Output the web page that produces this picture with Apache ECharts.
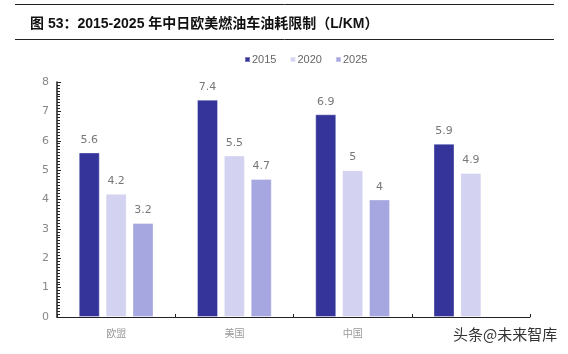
<!DOCTYPE html>
<html>
<head>
<meta charset="utf-8">
<script src="https://cdn.jsdelivr.net/npm/echarts@6/dist/echarts.min.js"></script>
<style>
  html, body { margin: 0; padding: 0; background: #fff; }
  #chart { width: 568px; height: 354px; }
</style>
</head>
<body>
<div id="chart"></div>
<script>
const categories = ['欧盟', '美国', '中国', '日本']
const years = ['2015', '2020', '2025']
const values2015 = [5.6, 7.4, 6.9, 5.9]
const values2020 = [4.2, 5.5, 5, 4.9]
const values2025 = [3.2, 4.7, 4, null]
const colors = ['#34349a', '#d3d3f1', '#a6a6e0']

const myChart = echarts.init(document.getElementById('chart'))
const seriesData = [values2015, values2020, values2025]

const series = years.map((name, i) => {
  return {
    name,
    type: 'bar',
    data: seriesData[i],
    barWidth: 21,
    barGap: '28%',
    itemStyle: { color: colors[i], borderColor: 'rgba(255,255,255,0.35)', borderWidth: 1 },
    label: {
      show: true,
      position: 'top',
      distance: 7,
      color: '#777',
      fontSize: 11,
      fontFamily: 'DejaVu Sans',
      formatter: p => (p.value == null ? '' : String(p.value))
    }
  }
})

myChart.setOption({
  animation: false,
  title: {
    text: '图 53：2015-2025 年中日欧美燃油车油耗限制（L/KM）',
    left: 25,
    top: 12,
    textStyle: { fontSize: 14, fontWeight: 'bold', color: '#111', fontFamily: 'Liberation Sans, Noto Sans CJK SC' }
  },
  legend: {
    data: years,
    left: 239,
    top: 49,
    itemWidth: 5,
    itemHeight: 5,
    itemGap: 13,
    icon: 'rect',
    textStyle: { color: '#666', fontSize: 11, padding: [0, 0, 0, -3], fontFamily: 'Liberation Sans' }
  },
  grid: { left: 57, right: 38, top: 82, bottom: 37 },
  xAxis: {
    type: 'category',
    data: categories,
    axisLine: { lineStyle: { color: '#222', width: 1 } },
    axisTick: { show: true, inside: true, length: 3, lineStyle: { color: '#222' } },
    axisLabel: { color: '#999', fontSize: 10, margin: 11, fontFamily: 'Noto Sans CJK SC' }
  },
  yAxis: {
    type: 'value',
    min: 0,
    max: 8,
    interval: 1,
    axisLine: { show: true, lineStyle: { color: '#222', width: 1.5 } },
    axisTick: { show: true, inside: true, length: 4, lineStyle: { color: '#222' } },
    minorTick: { show: true, splitNumber: 10, length: 3, lineStyle: { color: '#222' } },
    splitLine: { show: false },
    axisLabel: { color: '#888', fontSize: 11, margin: 8, fontFamily: 'DejaVu Sans' }
  },
  graphic: [
    { type: 'line', shape: { x1: 15, y1: 4.5, x2: 554, y2: 4.5 }, style: { stroke: '#222', lineWidth: 1 } },
    { type: 'line', shape: { x1: 15, y1: 39.5, x2: 554, y2: 39.5 }, style: { stroke: '#222', lineWidth: 1 } },
    {
      type: 'text',
      left: 450,
      top: 326,
      z: 100,
      style: {
        text: '头条@未来智库',
        fill: '#333',
        font: '15px "Noto Sans CJK SC"',
        backgroundColor: '#fff',
        padding: [1, 3]
      }
    }
  ],
  series
})
</script>
</body>
</html>
